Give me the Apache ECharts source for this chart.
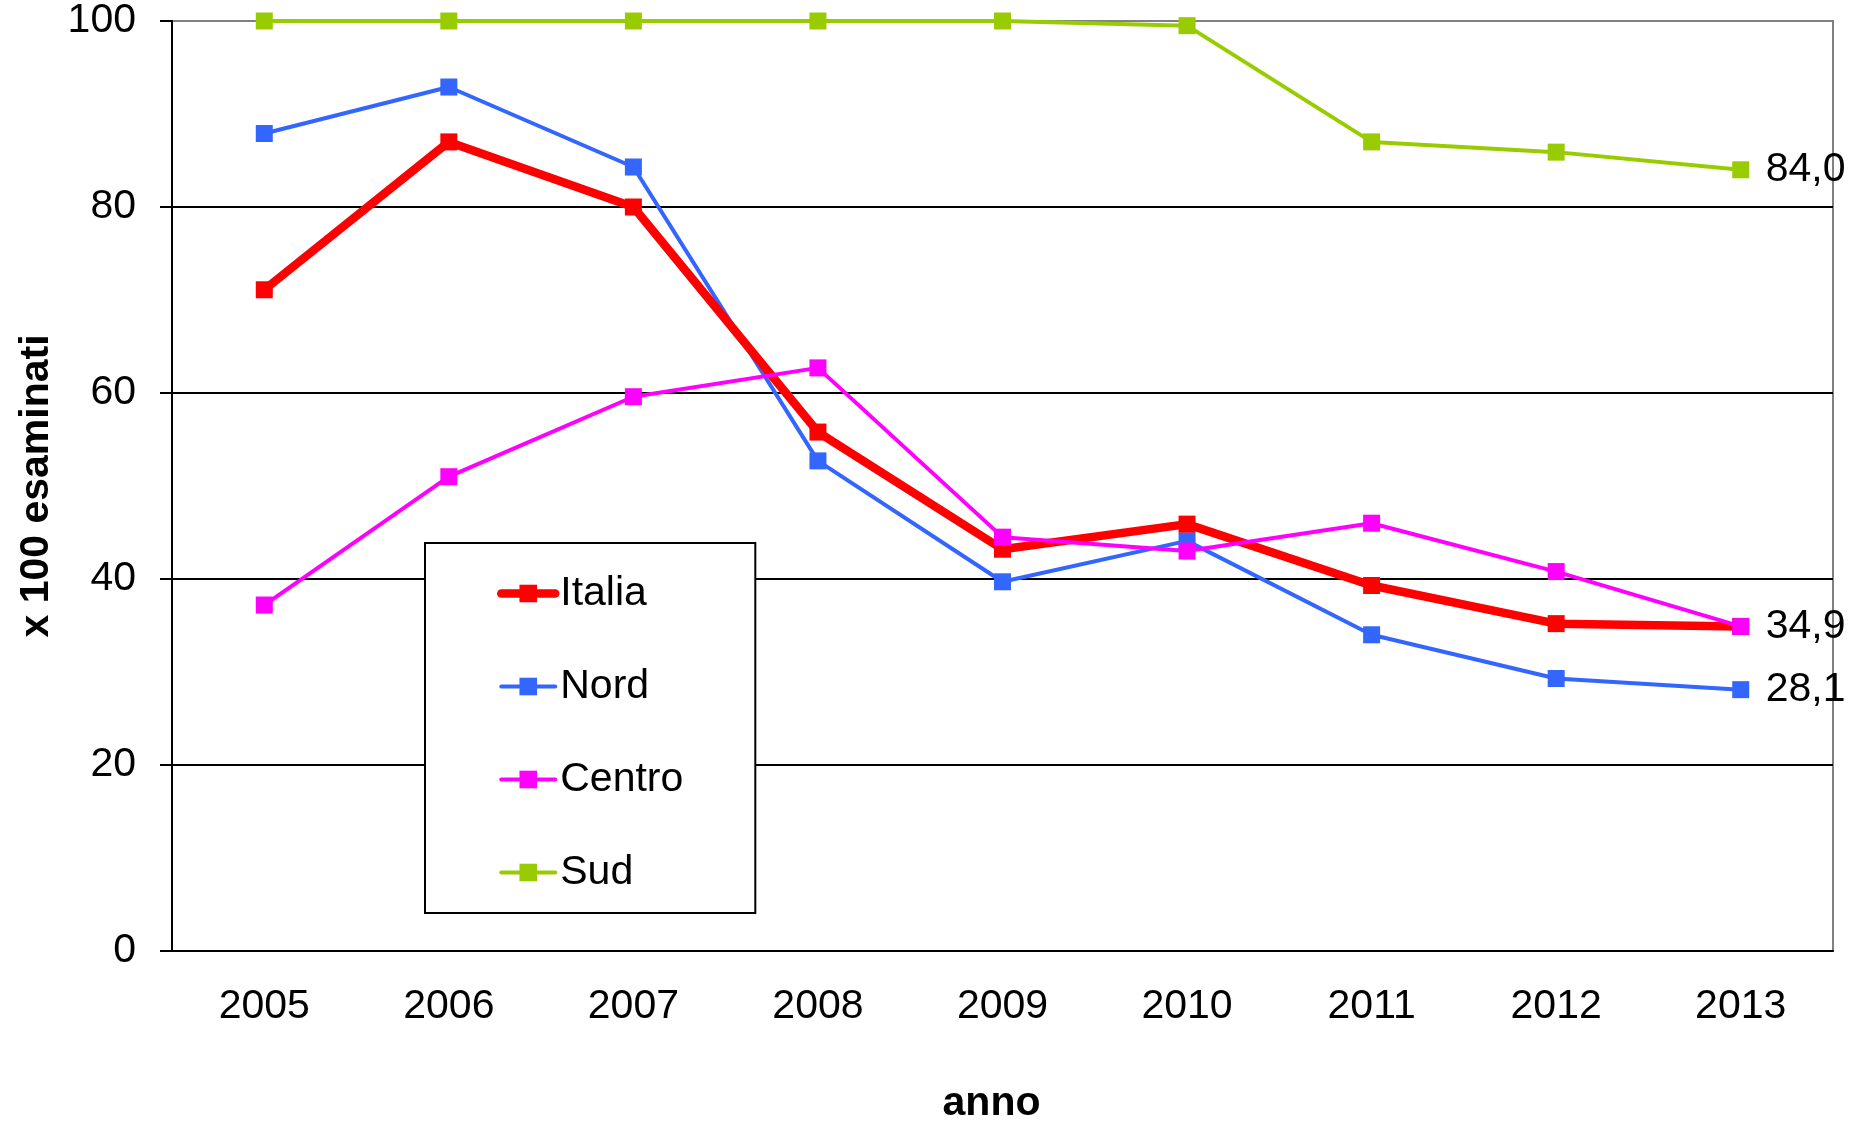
<!DOCTYPE html>
<html>
<head>
<meta charset="utf-8">
<title>x 100 esaminati</title>
<script src="https://cdn.jsdelivr.net/npm/echarts@6/dist/echarts.min.js"></script>
<style>
  html, body { margin: 0; padding: 0; background: #fff; }
  #chart { width: 1865px; height: 1124px; }
</style>
</head>
<body>
<div id="chart"></div>
<script>
// dati
const anni = ['2005', '2006', '2007', '2008', '2009', '2010', '2011', '2012', '2013']
const italia = [71.1, 87.0, 80.0, 55.8, 43.2, 45.9, 39.3, 35.2, 34.9]
const nord = [87.9, 92.9, 84.3, 52.7, 39.7, 44.1, 34.0, 29.3, 28.1]
const centro = [37.2, 51.0, 59.6, 62.7, 44.5, 43.0, 46.0, 40.8, 34.9]
const sud = [100, 100, 100, 100, 100, 99.5, 87.0, 85.9, 84.0]
const yTicks = [0, 20, 40, 60, 80, 100]

const font = '"Liberation Sans", Arial, sans-serif'
const colori = { Italia: '#FF0000', Nord: '#3366FF', Centro: '#FF00FF', Sud: '#99CC00' }
const spessori = { Italia: 8.5, Nord: 4, Centro: 4, Sud: 4 }

function virgola(v) {
  return v.toFixed(1).replace('.', ',')
}

function serie(name, data, showEnd) {
  const color = colori[name]
  return {
    name: name,
    type: 'line',
    data: data,
    symbol: 'rect',
    symbolSize: 17,
    color: color,
    lineStyle: { color: color, width: spessori[name] },
    itemStyle: { color: color },
    endLabel: {
      show: showEnd,
      distance: 25,
      color: '#000',
      fontSize: 41,
      fontFamily: font,
      formatter: function(p) { return virgola(p.value) }
    }
  }
}

// voci della legenda con lo spessore della linea della serie
const voci = ['Italia', 'Nord', 'Centro', 'Sud'].map(function(n) {
  return { name: n, lineStyle: { width: spessori[n], cap: 'round' } }
})

const chart = echarts.init(document.getElementById('chart'))
chart.setOption({
  animation: false,
  grid: {
    left: 172,
    right: 32,
    top: 21,
    bottom: 173,
    show: true,
    borderColor: '#808080',
    borderWidth: 2,
    outerBoundsMode: 'none'
  },
  legend: {
    data: voci,
    orient: 'vertical',
    left: 425,
    top: 543,
    itemWidth: 54,
    itemHeight: 22,
    itemGap: 52,
    padding: [30, 72, 20, 72],
    backgroundColor: '#fff',
    borderColor: '#000',
    borderWidth: 2,
    textStyle: { color: '#000', fontSize: 41, fontFamily: font }
  },
  xAxis: {
    type: 'category',
    data: anni,
    boundaryGap: true,
    name: 'anno',
    nameLocation: 'middle',
    nameGap: 132,
    nameTextStyle: { color: '#000', fontSize: 41, fontWeight: 'bold', fontFamily: font, padding: [0, 22, 0, 0] },
    axisLine: { lineStyle: { color: '#000', width: 2 } },
    axisTick: { length: 13, lineStyle: { color: '#000', width: 2 } },
    axisLabel: { color: '#000', fontSize: 41, fontFamily: font, margin: 35 }
  },
  yAxis: {
    type: 'value',
    min: yTicks[0],
    max: yTicks[yTicks.length - 1],
    interval: 20,
    name: 'x 100 esaminati',
    nameLocation: 'middle',
    nameGap: 98,
    nameTextStyle: { color: '#000', fontSize: 41, fontWeight: 'bold', fontFamily: font },
    axisLine: { show: true, lineStyle: { color: '#000', width: 2 } },
    axisTick: { show: true, length: 12, lineStyle: { color: '#000', width: 2 } },
    axisLabel: { color: '#000', fontSize: 41, fontFamily: font, margin: 36 },
    splitLine: {
      lineStyle: {
        color: ['#000', '#000', '#000', '#000', '#000', '#808080'],
        width: 2
      }
    }
  },
  series: [
    serie('Nord', nord, true),
    serie('Italia', italia, true),
    serie('Centro', centro, false),
    serie('Sud', sud, true)
  ]
})
</script>
</body>
</html>
